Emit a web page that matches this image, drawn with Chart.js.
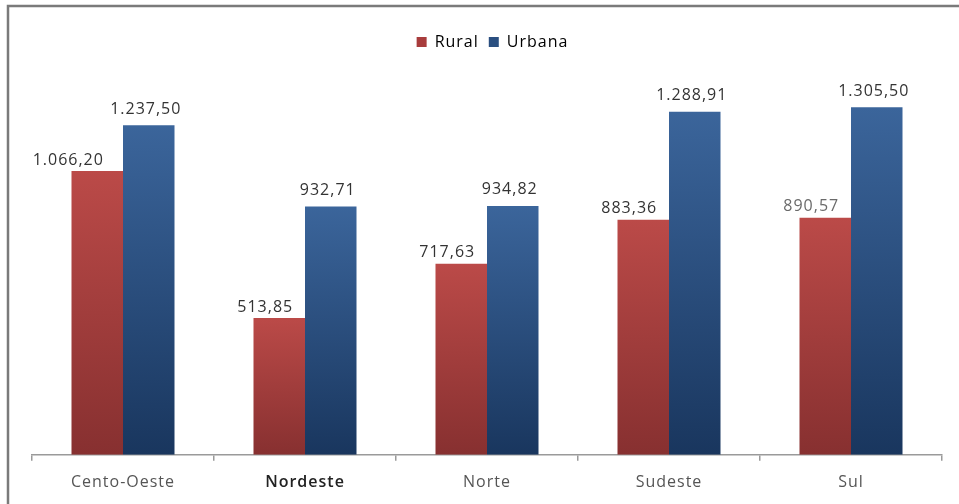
<!DOCTYPE html>
<html>
<head>
<meta charset="utf-8">
<script src="https://cdn.jsdelivr.net/npm/chart.js@4.4.1/dist/chart.umd.min.js"></script>
<style>
  html, body { margin: 0; padding: 0; background: #fff; }
  #wrap { width: 959px; height: 504px; position: relative; }
</style>
</head>
<body>
<div id="wrap"><canvas id="c" width="959" height="504"></canvas></div>
<script>
const categories = ["Cento-Oeste", "Nordeste", "Norte", "Sudeste", "Sul"];
const rural = [1066.20, 513.85, 717.63, 883.36, 890.57];
const urbana = [1237.50, 932.71, 934.82, 1288.91, 1305.50];
const seriesNames = ["Rural", "Urbana"];

const fmt = v => v.toLocaleString('pt-BR', { minimumFractionDigits: 2, maximumFractionDigits: 2 });

function barGradient(light, dark) {
  return function (context) {
    const chart = context.chart;
    const { ctx, chartArea, scales } = chart;
    if (!chartArea || !scales.y || context.parsed === undefined) return dark;
    const yTop = scales.y.getPixelForValue(context.parsed.y);
    const yBase = scales.y.getPixelForValue(0);
    const g = ctx.createLinearGradient(0, yTop, 0, yBase);
    g.addColorStop(0, light);
    g.addColorStop(1, dark);
    return g;
  };
}

const framePlugin = {
  id: 'frame',
  beforeDraw(chart) {
    const ctx = chart.ctx;
    ctx.letterSpacing = '1px';
    ctx.save();
    ctx.strokeStyle = '#7a7a7a';
    ctx.lineWidth = 2.5;
    ctx.beginPath();
    ctx.moveTo(8, 504);
    ctx.lineTo(8, 6);
    ctx.lineTo(959, 6);
    ctx.stroke();
    ctx.restore();
  }
};

const labelPlugin = {
  id: 'valueLabels',
  afterDatasetsDraw(chart) {
    const ctx = chart.ctx;
    ctx.save();
    ctx.letterSpacing = '1px';
    ctx.font = '16px "Open Sans", "Liberation Sans", sans-serif';
    ctx.textAlign = 'center';
    ctx.textBaseline = 'middle';
    const shifts = [-14, -3];
    const rises = [11, 16];
    chart.data.datasets.forEach((ds, di) => {
      const meta = chart.getDatasetMeta(di);
      meta.data.forEach((bar, i) => {
        ctx.fillStyle = (di === 0 && i === 4) ? '#6a6a6a' : '#333333';
        let dx = shifts[di];
        if (di === 0 && i === 0) dx = -29;
        ctx.fillText(fmt(ds.data[i]), bar.x + dx, bar.y - rises[di]);
      });
    });
    ctx.restore();
  }
};

new Chart(document.getElementById('c'), {
  type: 'bar',
  data: {
    labels: categories,
    datasets: [
      {
        label: seriesNames[0],
        data: rural,
        backgroundColor: barGradient('#bb4a48', '#873030'),
        borderWidth: 0,
        categoryPercentage: 0.566,
        barPercentage: 1.0
      },
      {
        label: seriesNames[1],
        data: urbana,
        backgroundColor: barGradient('#3b659b', '#19365e'),
        borderWidth: 0,
        categoryPercentage: 0.566,
        barPercentage: 1.0
      }
    ]
  },
  options: {
    responsive: false,
    animation: false,
    layout: { padding: { left: 32, right: 17, top: 24, bottom: 0 } },
    plugins: {
      tooltip: { enabled: false },
      legend: {
        position: 'top',
        align: 'center',
        labels: {
          boxWidth: 10,
          boxHeight: 10,
          padding: 10,
          color: '#222',
          font: { family: '"Open Sans", "Liberation Sans", sans-serif', size: 16 },
          generateLabels(chart) {
            const cols = ['#a83c3c', '#2a4f80'];
            return chart.data.datasets.map((ds, i) => ({
              text: ds.label,
              fillStyle: cols[i],
              strokeStyle: cols[i],
              lineWidth: 0,
              datasetIndex: i,
              hidden: false
            }));
          }
        }
      }
    },
    scales: {
      x: {
        offset: true,
        grid: {
          offset: true,
          display: true,
          drawOnChartArea: false,
          drawTicks: true,
          tickLength: 6,
          color: '#9a9a9a',
          lineWidth: 1.5
        },
        border: { display: true, color: '#9a9a9a', width: 1.5 },
        ticks: {
          padding: 12,
          color: ctx => ctx.index === 1 ? '#222' : '#555',
          font: ctx => ({
            family: '"Open Sans", "Liberation Sans", sans-serif',
            size: 16,
            weight: ctx.index === 1 ? '600' : 'normal'
          })
        }
      },
      y: {
        display: false,
        min: 0,
        max: 1483
      }
    }
  },
  plugins: [framePlugin, labelPlugin]
});
</script>
</body>
</html>
